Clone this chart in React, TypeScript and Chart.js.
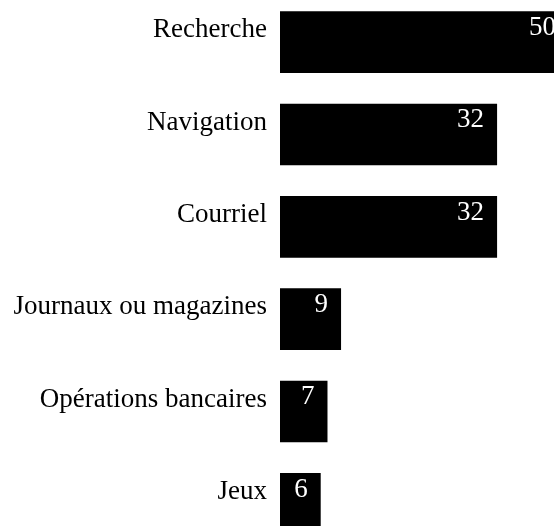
import React, { useEffect, useRef } from "react";
import { Chart, registerables } from "chart.js";

Chart.register(...registerables);

const categories = [
  "Recherche",
  "Navigation",
  "Courriel",
  "Journaux ou magazines",
  "Opérations bancaires",
  "Jeux",
];
const values = [50, 32, 32, 9, 7, 6];
const xMax = 42.6;

const FONT = "'Liberation Serif', 'Times New Roman', serif";

const valueLabels = {
  id: "valueLabels",
  afterDatasetsDraw(chart: any) {
    const { ctx, chartArea } = chart;
    const meta = chart.getDatasetMeta(0);
    ctx.save();
    ctx.font = `27px ${FONT}`;
    ctx.fillStyle = "#ffffff";
    ctx.textAlign = "right";
    ctx.textBaseline = "alphabetic";
    meta.data.forEach((bar: any, i: number) => {
      const props = bar.getProps(["x", "y", "base", "height"], true);
      const end = Math.min(props.x, chartArea.right);
      const top = props.y - props.height / 2;
      ctx.save();
      ctx.beginPath();
      ctx.rect(props.base, top, end - props.base, props.height);
      ctx.clip();
      ctx.fillText(String(values[i]), end - 13, top + 23.5);
      ctx.restore();
    });
    ctx.restore();
  },
};

export default function App() {
  const ref = useRef<HTMLCanvasElement | null>(null);

  useEffect(() => {
    if (!ref.current) return;
    const chart = new Chart(ref.current, {
      type: "bar",
      data: {
        labels: categories,
        datasets: [
          {
            data: values,
            backgroundColor: "#000000",
            borderWidth: 0,
            barPercentage: 1,
            categoryPercentage: 0.667,
          },
        ],
      },
      options: {
        indexAxis: "y",
        responsive: false,
        animation: false,
        layout: { padding: 0 },
        plugins: {
          legend: { display: false },
          tooltip: { enabled: false },
          title: { display: false },
        },
        scales: {
          x: {
            display: false,
            min: 0,
            max: xMax,
          },
          y: {
            grid: { display: false, drawTicks: false },
            border: { display: false },
            afterFit: (scale: any) => {
              scale.width = 280;
              scale.paddingTop = 0;
              scale.paddingBottom = 0;
            },
            ticks: {
              padding: 13,
              labelOffset: -12,
              color: "#000000",
              autoSkip: false,
              font: { family: FONT, size: 27 },
            },
          },
        },
      },
      plugins: [valueLabels],
    });
    return () => chart.destroy();
  }, []);

  return (
    <div
      style={{
        position: "fixed",
        left: 0,
        top: 0,
        width: 554,
        height: 526,
        overflow: "hidden",
        background: "#ffffff",
      }}
    >
      <canvas
        ref={ref}
        width={569}
        height={554}
        style={{ position: "absolute", left: 0, top: -4, width: 569, height: 554 }}
      />
    </div>
  );
}
